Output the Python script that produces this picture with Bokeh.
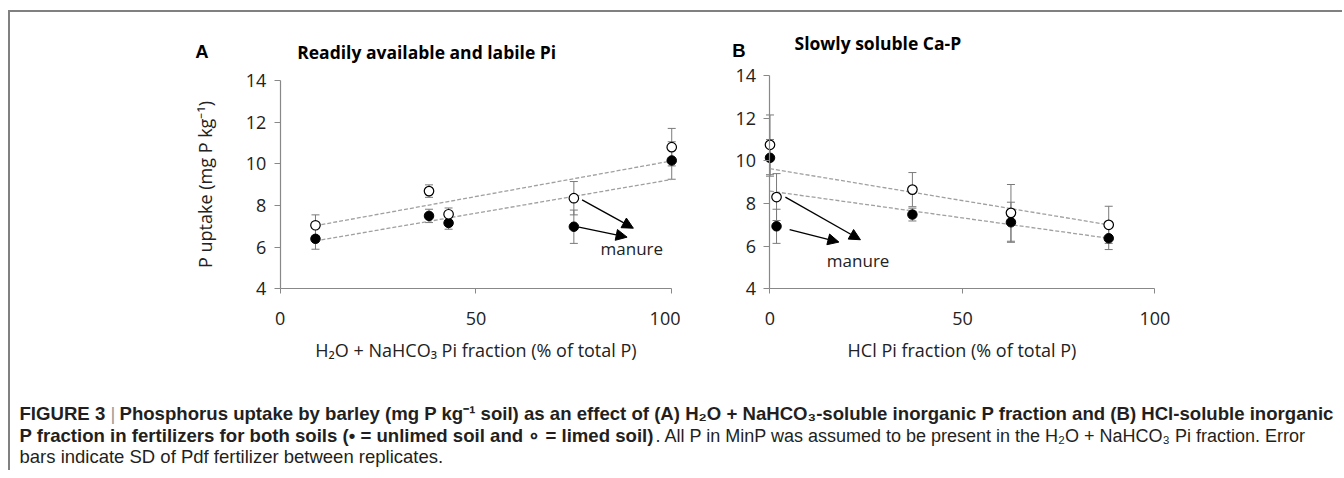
from bokeh.plotting import figure
from bokeh.models import (Range1d, FixedTicker, ColumnDataSource, Whisker, TeeHead,
                          Arrow, NormalHead)
from bokeh.layouts import row, column
from bokeh.embed import file_html
from bokeh.resources import INLINE
from bokeh.core.properties import value

# ---------------- data ----------------
x_ticks = [0, 50, 100]
y_ticks = [4, 6, 8, 10, 12, 14]

# Panel A: H2O + NaHCO3 Pi fraction (% of total P)
a_x = [9, 38, 43, 75, 100]
a_limed = [7.05, 8.69, 7.58, 8.35, 10.8]
a_limed_sd = [0.5, 0.3, 0.3, 0.8, 0.9]
a_unlimed = [6.4, 7.5, 7.16, 6.98, 10.16]
a_unlimed_sd = [0.5, 0.32, 0.3, 0.8, 0.9]
a_trend_x = [9, 100]
a_trend_limed = [7.03, 10.14]
a_trend_unlimed = [6.3, 9.25]
a_arrow_x0 = [77.1, 76.3]
a_arrow_y0 = [8.27, 6.96]
a_arrow_x1 = [90.2, 88.6]
a_arrow_y1 = [6.91, 6.48]
a_note_xy = (89.8, 5.93)

# Panel B: HCl Pi fraction (% of total P)
b_x = [0, 1.7, 37, 62.6, 88]
b_limed = [10.75, 8.3, 8.65, 7.56, 7.0]
b_limed_sd = [1.4, 1.1, 0.8, 1.33, 0.87]
b_unlimed = [10.14, 6.93, 7.48, 7.12, 6.37]
b_unlimed_sd = [0.86, 0.8, 0.3, 0.94, 0.53]
b_trend_x = [0, 88]
b_trend_limed = [9.63, 7.0]
b_trend_unlimed = [8.58, 6.37]
b_arrow_x0 = [4.0, 5.1]
b_arrow_y0 = [8.3, 6.78]
b_arrow_x1 = [23.5, 17.9]
b_arrow_y1 = [6.3, 6.19]
b_note_xy = (22.9, 5.33)

FONT = "Open Sans"
AXIS_GRAY = "#888888"
TXT = "#222222"


def make_panel(width, xr, yr, xs, limed, limed_sd, unlimed, unlimed_sd,
               tx, t_limed, t_unlimed, ax0, ay0, ax1, ay1, note_xy,
               xlabel, ylabel, letter_xy, title_xy, letter, title):
    p = figure(width=width, height=368, x_range=Range1d(*xr), y_range=Range1d(*yr),
               output_backend="svg", toolbar_location=None,
               min_border_left=0, min_border_right=0,
               min_border_top=0, min_border_bottom=0)
    p.outline_line_color = None
    p.grid.visible = False

    xa = p.xaxis[0]
    xa.bounds = (0, 100)
    xa.ticker = FixedTicker(ticks=x_ticks)
    xa.fixed_location = 4
    ya = p.yaxis[0]
    ya.bounds = (4, 14)
    ya.ticker = FixedTicker(ticks=y_ticks)
    ya.fixed_location = 0
    for ax in (xa, ya):
        ax.minor_tick_line_color = None
        ax.major_tick_in = 0
        ax.axis_line_color = AXIS_GRAY
        ax.major_tick_line_color = AXIS_GRAY
        ax.axis_line_width = 1.2
        ax.major_label_text_font = FONT
        ax.major_label_text_font_size = "18px"
        ax.major_label_text_color = TXT
        ax.axis_label_text_font = FONT
        ax.axis_label_text_font_size = "18px"
        ax.axis_label_text_font_style = "normal"
        ax.axis_label_text_color = TXT
    xa.major_tick_out = 5
    xa.major_label_standoff = 18
    xa.axis_label = xlabel
    xa.axis_label_standoff = 10
    ya.major_tick_out = 6
    ya.major_label_standoff = 8
    if ylabel:
        ya.axis_label = ylabel
        ya.axis_label_standoff = 26

    # trend lines
    p.line(tx, t_limed, line_color="#a0a0a0", line_dash="4 2", line_width=1.3)
    p.line(tx, t_unlimed, line_color="#a0a0a0", line_dash="4 2", line_width=1.3)

    # error bars
    for ys, sd in ((limed, limed_sd), (unlimed, unlimed_sd)):
        src = ColumnDataSource(dict(x=xs, upper=[v + s for v, s in zip(ys, sd)],
                                    lower=[v - s for v, s in zip(ys, sd)]))
        w = Whisker(source=src, base="x", upper="upper", lower="lower",
                    dimension="height", line_color="#7a7a7a", line_width=1,
                    upper_head=TeeHead(size=8, line_color="#7a7a7a", line_width=1),
                    lower_head=TeeHead(size=8, line_color="#7a7a7a", line_width=1))
        p.add_layout(w)

    # points
    p.scatter(xs, unlimed, marker="circle", size=9.5, fill_color="black",
              line_color="black", line_width=1)
    p.scatter(xs, limed, marker="circle", size=9.5, fill_color="white",
              line_color="black", line_width=1.2)

    # manure arrows
    asrc = ColumnDataSource(dict(x0=ax0, y0=ay0, x1=ax1, y1=ay1))
    p.add_layout(Arrow(source=asrc, x_start="x0", y_start="y0", x_end="x1", y_end="y1",
                       line_color="black", line_width=1.3,
                       end=NormalHead(size=11, fill_color="black", line_color="black",
                                      line_width=1)))
    p.text([note_xy[0]], [note_xy[1]], text=["manure"], text_font=value(FONT),
           text_font_size="17px", text_color=TXT, text_align="center",
           text_baseline="middle")

    # panel letter and title
    p.text([letter_xy[0]], [letter_xy[1]], text=[letter],
           text_font=value("Liberation Sans"), text_font_style="bold",
           text_font_size="18.5px", text_color="black", text_align="center",
           text_baseline="middle")
    p.text([title_xy[0]], [title_xy[1]], text=[title], text_font=value(FONT),
           text_font_style="bold", text_font_size="17.5px", text_color="black",
           text_align="left", text_baseline="middle")
    return p


pa = make_panel(670, (-68.9, 102.24), (-0.402, 17.265), a_x, a_limed, a_limed_sd,
                a_unlimed, a_unlimed_sd, a_trend_x, a_trend_limed, a_trend_unlimed,
                a_arrow_x0, a_arrow_y0, a_arrow_x1, a_arrow_y1, a_note_xy,
                "H\u2082O + NaHCO\u2083 Pi fraction (% of total P)",
                "P uptake (mg P kg\u207b\u00b9)",
                (-19.99, 15.38), (4.33, 15.38), "A", "Readily available and labile Pi")

pb = make_panel(662, (-23.25, 148.74), (-0.299, 16.954), b_x, b_limed, b_limed_sd,
                b_unlimed, b_unlimed_sd, b_trend_x, b_trend_limed, b_trend_unlimed,
                b_arrow_x0, b_arrow_y0, b_arrow_x1, b_arrow_y1, b_note_xy,
                "HCl Pi fraction (% of total P)", None,
                (-8.1, 15.16), (6.37, 15.51), "B", "Slowly soluble Ca-P")

# ---------------- caption ----------------
cap = figure(width=1332, height=90, x_range=Range1d(0, 1332), y_range=Range1d(90, 0),
             output_backend="svg", toolbar_location=None, x_axis_type=None,
             y_axis_type=None, min_border=0)
cap.outline_line_color = None
cap.grid.visible = False
CF = value("Liberation Sans")
CC = "#231f20"


def ctext(x, y, s, bold=True, color=CC, size="18.6px"):
    cap.text([x], [y], text=[s], text_font=CF, text_font_size=size,
             text_font_style="bold" if bold else "normal", text_color=color,
             text_align="left", text_baseline="middle")


ctext(9, 33, "FIGURE 3")
ctext(100, 33, "|", bold=False, color="#9a9a9a")
ctext(109, 33, "Phosphorus uptake by barley (mg P kg\u207b\u00b9 soil) as an effect of (A) "
      "H\u2082O + NaHCO\u2083-soluble inorganic P fraction and (B) HCl-soluble inorganic")
ctext(9, 55, "P fraction in fertilizers for both soils (\u2022 = unlimed soil and "
      "\u2218 = limed soil)")
ctext(645, 55, ". All P in MinP was assumed to be present in the H\u2082O + NaHCO\u2083 "
      "Pi fraction. Error", bold=False, size="18px")
ctext(9, 76, "bars indicate SD of Pdf fertilizer between replicates.", bold=False,
      size="18.5px")

layout = column(row(pa, pb), cap, margin=(10, 0, 0, 8),
                styles={"border-left": "2px solid #808080",
                        "border-top": "2px solid #808080"})

open("out.html", "w").write(file_html(layout, INLINE))
